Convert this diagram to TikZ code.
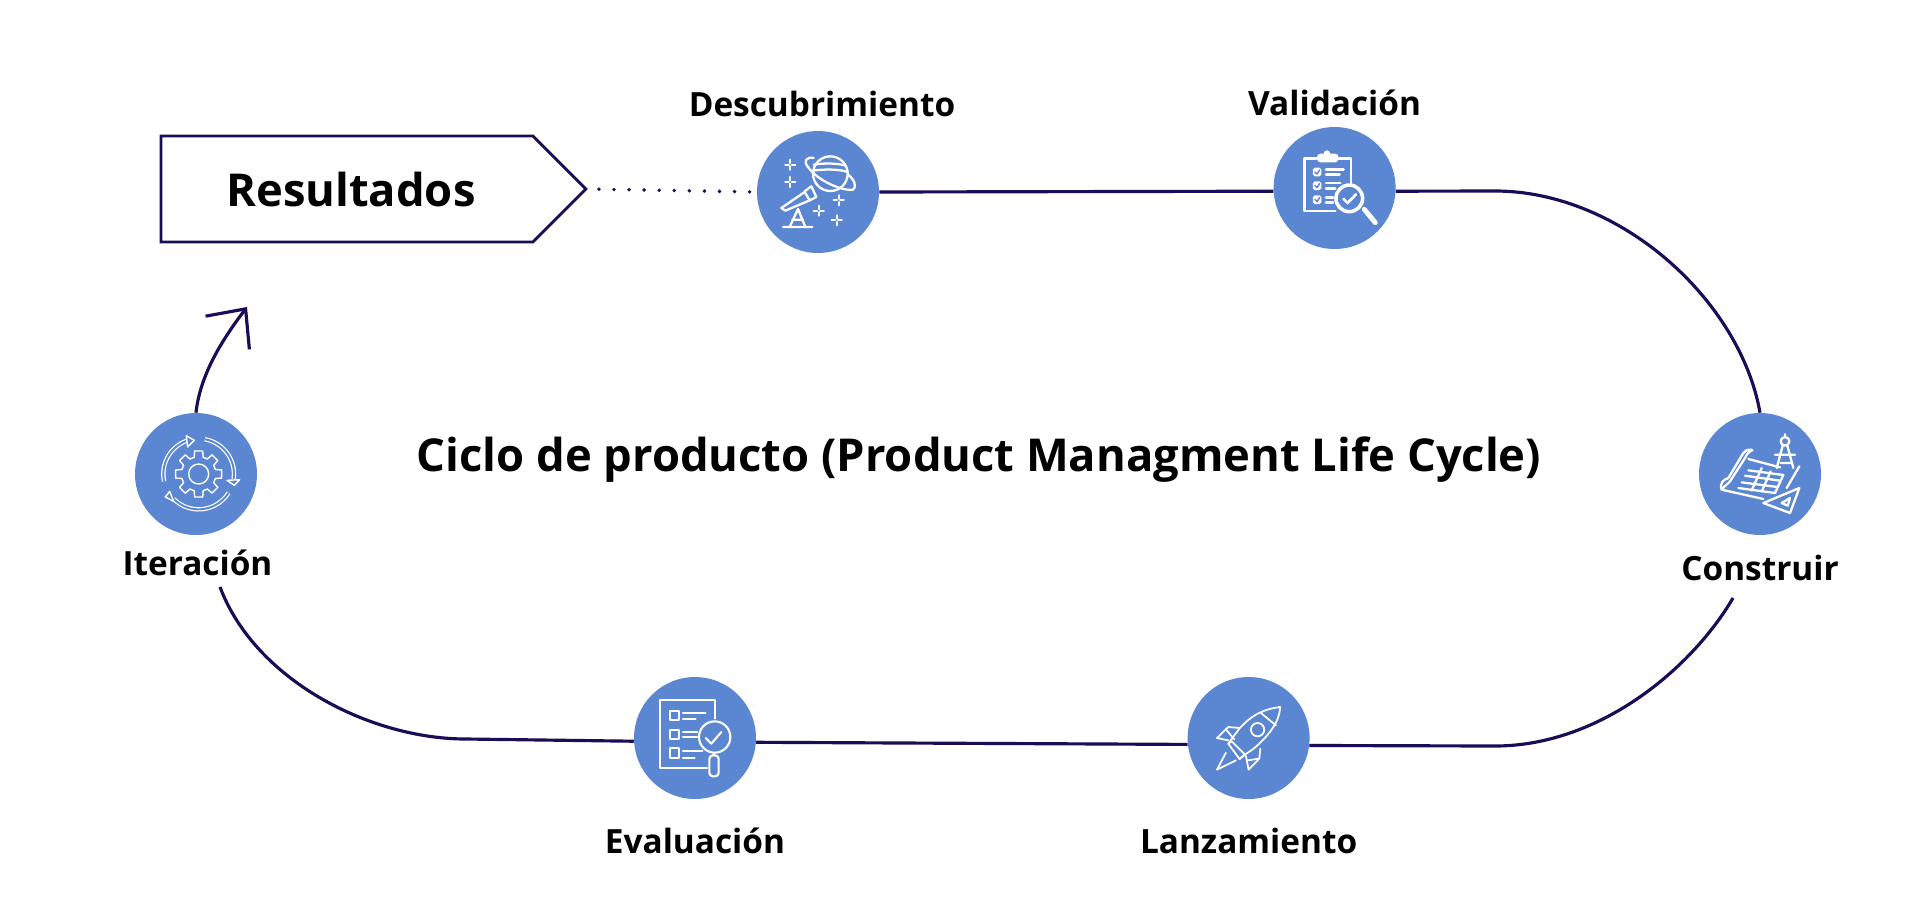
\documentclass[tikz,border=0pt]{standalone}
\usepackage{fontspec}
\setmainfont{Open Sans}
\usepackage{xcolor}
\usetikzlibrary{arrows.meta,positioning,shapes.symbols}
\definecolor{navyline}{HTML}{1C0B57}
\definecolor{stageblue}{HTML}{5B86D2}

\begin{document}
\begin{tikzpicture}[
  x=0.02cm,y=-0.02cm,
  stage/.style={circle,fill=stageblue,minimum size=2.44cm,inner sep=0pt},
  steplabel/.style={font=\fontsize{19}{23}\selectfont\bfseries,inner sep=0pt},
  resultbox/.style={draw=navyline,line width=1.6pt,signal,signal to=east,signal pointer angle=90,minimum width=8.5cm,minimum height=2.12cm,font=\fontsize{25.8}{30}\selectfont\bfseries},
  link/.style={navyline,line width=1.8pt},
  iconline/.style={draw=white,line width=#1,line join=round,line cap=round},
  iconline/.default=1pt,
  zoomed/.style={shift={(#1)},x=0.00667cm,y=-0.00667cm}
]
  \useasboundingbox (0,0) rectangle (1922,900);

  \node[stage] (descub) at (818,192) {};
  \node[stage, right=7.88cm of descub, yshift=0.08cm] (valid) {};
  \node[stage] (build) at (1760,474) {};
  \node[stage] (evalua) at (695,738) {};
  \node[stage, right=8.62cm of evalua] (launch) {};
  \node[stage] (iterat) at (196,474) {};

  \node[steplabel, above=0.26cm of descub, xshift=0.08cm] (labdescub) {Descubrimiento};
  \node[steplabel, above=0.2cm of valid] (labvalid) {Validación};
  \node[steplabel, below=0.38cm of build] (labbuild) {Construir};
  \node[steplabel, below=0.57cm of launch] (lablaunch) {Lanzamiento};
  \node[steplabel, below=0.57cm of evalua] (labevalua) {Evaluación};
  \node[steplabel, below=0.28cm of iterat, xshift=0.03cm] (labiterat) {Iteración};
  \node[resultbox] (result) at (347,189) {\hspace*{0.16cm}Resultados};
  \node[font=\fontsize{25.8}{31}\selectfont\bfseries] (title) at (979,460) {Ciclo de producto (Product Managment Life Cycle)};

  \coordinate (topbend) at (1495,191);
  \coordinate (buildfoot) at (1733,598);
  \coordinate (lowbend) at (1495,746);
  \coordinate (leftbend) at (466,739);
  \coordinate (iterfoot) at (220,587);
  \coordinate (arrowtip) at (247,307);

  \draw[navyline,line width=2.2pt,line cap=round,dash pattern=on 0pt off 8.58pt,dash phase=2.34pt] (result.east) -- (descub.west);
  \draw[link] (descub.east) -- (valid.183);
  \draw[link] (valid.357) -- (topbend) .. controls (1620,191) and (1740,300) .. (build.north);
  \draw[link] (buildfoot) .. controls (1692,668) and (1600,746) .. (lowbend) -- (launch.353);
  \draw[link] (launch.186) -- (evalua.356);
  \draw[link] (evalua.183) -- (leftbend) .. controls (370,739) and (255,680) .. (iterfoot);
  \draw[link,-{Straight Barb[length=0.6cm,width=1.1cm]}] (iterat.north) .. controls (200,375) and (222,340) .. (arrowtip);

  % telescope and planet
  \begin{scope}[zoomed=descub,shift={(-235,-247)}]
    \draw[iconline=1.3pt] (272,192) circle (52);
    \draw[iconline=1.3pt] (222,165) .. controls (250,160) and (295,160) .. (318,168);
    \draw[iconline=1.3pt] (220,183) .. controls (250,178) and (300,178) .. (324,187);
    \draw[iconline=1.3pt] (222,145) .. controls (200,140) and (190,155) .. (205,172) .. controls (235,215) and (310,245) .. (340,240) .. controls (352,232) and (345,210) .. (325,195);
    \draw[iconline=1.3pt] (125,295) -- (195,247) -- (210,272) -- (137,303) -- cycle;
    \draw[iconline=1.3pt] (195,245) -- (215,230) -- (230,262) -- (210,272);
    \draw[iconline=1.3pt] (175,298) -- (150,352) (175,298) -- (197,352) (158,330) -- (190,330) (130,352) -- (218,352);
    \foreach \sx/\sy in {152/165,152/217,297/272,237/303,291/332}
      \draw[iconline=1.3pt] (\sx-15,\sy) -- (\sx-5,\sy) (\sx+5,\sy) -- (\sx+15,\sy) (\sx,\sy-15) -- (\sx,\sy-5) (\sx,\sy+5) -- (\sx,\sy+15);
  \end{scope}

  % clipboard
  \begin{scope}[zoomed=valid,shift={(-223,-233)}]
    \draw[iconline=1.4pt] (225,302) -- (133,302) -- (133,145) -- (168,145) (235,145) -- (272,145) -- (272,225);
    \fill[white,rounded corners=2pt] (170,130) rectangle (235,156);
    \fill[white] (200,130) circle (10);
    \foreach \cy in {185,226,268} {
      \fill[white,rounded corners=1pt] (158,\cy-13) rectangle (183,\cy+13);
      \draw[iconline=0.8pt,draw=stageblue] (164,\cy) -- (170,\cy+6) -- (178,\cy-6);
    }
    \draw[iconline=1.4pt] (197,178) -- (250,178) (197,193) -- (238,193) (197,218) -- (240,218) (197,235) -- (225,235) (197,262) -- (218,262) (197,277) -- (218,277);
    \draw[iconline=2pt,fill=stageblue] (267,264) circle (40);
    \draw[iconline=1.5pt] (250,266) -- (262,278) -- (287,252);
    \draw[iconline=2.8pt] (312,297) -- (345,337);
  \end{scope}

  % blueprint and compass
  \begin{scope}[zoomed=build,shift={(-240,-223)}]
    \draw[iconline=1.3pt] (125,270) -- (250,298) (125,270) .. controls (118,250) and (130,240) .. (145,235) -- (190,160) .. controls (198,148) and (215,148) .. (217,152) .. controls (205,155) and (200,165) .. (195,175) -- (150,245) .. controls (145,255) and (135,255) .. (125,270);
    \draw[iconline=1.3pt] (205,178) -- (300,203) (358,200) -- (320,265);
    \draw[iconline=1.3pt] (205,212) -- (310,226) -- (285,280) -- (175,265);
    \draw[iconline=1.3pt] (195,228) -- (300,243) (185,248) -- (292,262) (245,205) -- (215,272) (272,215) -- (245,275);
    \draw[iconline=1.3pt] (315,125) circle (13) (315,104) -- (315,112);
    \draw[iconline=1.3pt] (308,138) -- (290,205) (322,138) -- (340,205) (285,165) -- (345,165) (302,190) -- (332,190);
    \draw[iconline=1.3pt,fill=stageblue] (250,310) -- (358,265) -- (330,340) -- cycle;
    \draw[iconline=1.3pt] (305,310) -- (330,295) -- (323,318) -- cycle;
  \end{scope}

  % rocket
  \begin{scope}[zoomed=launch,shift={(-233,-218)}]
    \draw[iconline] (328,125) .. controls (285,130) and (245,145) .. (205,190) -- (172,235) -- (205,280) -- (248,250) .. controls (295,210) and (325,170) .. (328,125) -- cycle;
    \draw[iconline] (270,143) -- (315,180);
    \draw[iconline] (260,193) circle (20);
    \draw[iconline] (172,235) -- (182,228) -- (222,268) -- (205,282);
    \draw[iconline] (205,188) -- (172,185) -- (138,218) -- (172,225) (165,192) -- (190,222);
    \draw[iconline] (268,250) -- (265,280) -- (233,313) -- (225,272) (232,285) -- (262,280);
    \draw[iconline] (165,262) -- (138,313) -- (195,285);
  \end{scope}

  % checklist
  \begin{scope}[zoomed=evalua,shift={(-226,-218)}]
    \draw[iconline=1.2pt] (285,160) -- (285,105) -- (120,105) -- (120,308) -- (262,308);
    \foreach \cy in {150,207,263}
      \draw[iconline=1.2pt] (152,\cy-14) rectangle (178,\cy+14);
    \draw[iconline=1.2pt] (190,143) -- (258,143) (190,160) -- (228,160) (190,200) -- (232,200) (190,215) -- (232,215) (190,258) -- (248,258) (190,278) -- (225,278);
    \draw[iconline=1.2pt] (285,215) circle (47);
    \draw[iconline=1.2pt] (258,218) -- (275,235) -- (305,200);
    \draw[iconline=1.2pt] (283,262) -- (283,270);
    \draw[iconline=1.2pt,rounded corners=2pt] (269,270) rectangle (297,333);
  \end{scope}

  % gear with arrows
  \begin{scope}[zoomed=iterat,shift={(-257,-553)}]
    \draw[iconline=0.8pt] (265,553) circle (30);
    \foreach \a in {0,45,...,315}
      \draw[iconline=0.8pt,shift={(265,553)}] (\a-10:70) -- (\a+10:70) -- (\a+15:52) -- (\a+30:52) -- (\a+35:70);
    \draw[white,line width=0.7pt,double=stageblue,double distance=1.1pt] (265,553) ++(168:106) arc[start angle=168,end angle=250,radius=106];
    \draw[white,line width=0.7pt,double=stageblue,double distance=1.1pt] (265,553) ++(280:106) arc[start angle=280,end angle=368,radius=106];
    \draw[white,line width=0.7pt,double=stageblue,double distance=1.1pt] (265,553) ++(32:106) arc[start angle=32,end angle=135,radius=106];
    \draw[iconline=0.8pt,fill=stageblue] (228,438) -- (252,452) -- (232,472) -- cycle;
    \draw[iconline=0.8pt,fill=stageblue] (350,572) -- (372,587) -- (388,570) -- cycle;
    \draw[iconline=0.8pt,fill=stageblue] (178,605) -- (165,622) -- (190,635) -- cycle;
  \end{scope}
\end{tikzpicture}
\end{document}
